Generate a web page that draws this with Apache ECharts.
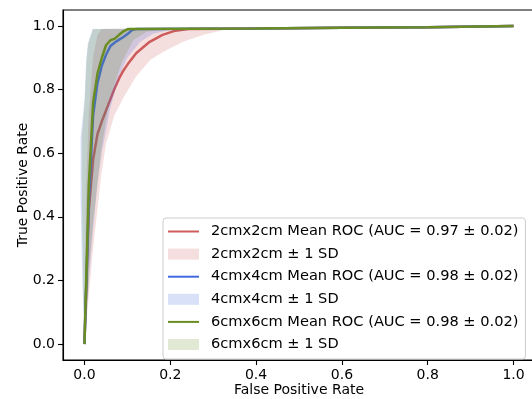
<!DOCTYPE html>
<html><head><meta charset="utf-8">
<script src="https://cdn.jsdelivr.net/npm/echarts@6/dist/echarts.min.js"></script>
<style>html,body{margin:0;padding:0;background:#fff}#c{width:532px;height:399px}</style>
</head><body><div id="c"></div>
<script>
const xTicks = [0, 0.2, 0.4, 0.6, 0.8, 1.0];
const yTicks = [0, 0.2, 0.4, 0.6, 0.8, 1.0];

const lineNames = ['2cmx2cm Mean ROC (AUC = 0.97 \u00b1 0.02)', '4cmx4cm Mean ROC (AUC = 0.98 \u00b1 0.02)', '6cmx6cm Mean ROC (AUC = 0.98 \u00b1 0.02)'];
const bandNames = ['2cmx2cm \u00b1 1 SD', '4cmx4cm \u00b1 1 SD', '6cmx6cm \u00b1 1 SD'];
const lineColors = ['#cd5c5c', '#4169e1', '#6b8e23'];
const bandColors = ['rgba(205,92,92,0.2)', 'rgba(65,105,225,0.2)', 'rgba(107,142,35,0.2)'];

// mean ROC curves [fpr, tpr]
const mean2 = [[0,0],[0.0101,0.42],[0.0202,0.58],[0.0303,0.66],[0.0404,0.70],[0.0505,0.735],[0.0606,0.77],[0.0707,0.805],[0.0808,0.835],[0.0909,0.86],[0.101,0.88],[0.121,0.915],[0.152,0.95],[0.182,0.972],[0.212,0.985],[0.242,0.99],[0.4,0.992],[0.6,0.994],[0.8,0.996],[1.0,1.0]];
const mean4 = [[0,0],[0.0101,0.45],[0.0202,0.72],[0.0303,0.82],[0.0404,0.875],[0.0505,0.91],[0.0606,0.937],[0.0707,0.948],[0.0808,0.957],[0.0909,0.965],[0.101,0.975],[0.111,0.987],[0.121,0.99],[0.4,0.992],[0.6,0.994],[0.8,0.996],[1.0,1.0]];
const mean6 = [[0,0],[0.0101,0.5],[0.0202,0.76],[0.0303,0.85],[0.0404,0.9],[0.0505,0.94],[0.0606,0.955],[0.0707,0.96],[0.0808,0.972],[0.0909,0.983],[0.101,0.99],[0.4,0.992],[0.6,0.994],[0.8,0.996],[1.0,1.0]];

// +/- 1 SD band edges [fpr, tpr]
const upper2 = [[0,0],[0.004,0.5],[0.01,0.72],[0.02,0.9],[0.03,0.97],[0.04,0.99],[1.0,1.0]];
const lower2 = [[0,0],[0.01,0.15],[0.02,0.3],[0.03,0.42],[0.039,0.53],[0.05,0.63],[0.07,0.72],[0.093,0.78],[0.12,0.84],[0.153,0.893],[0.184,0.919],[0.231,0.951],[0.278,0.972],[0.324,0.987],[0.35,0.99],[1.0,1.0]];
const upper4 = [[0,0],[-0.005,0.2],[-0.009,0.45],[-0.009,0.65],[0,0.767],[0.004,0.893],[0.008,0.945],[0.019,0.99],[1.0,1.0]];
const lower4 = [[0,0],[0.01,0.2],[0.02,0.36],[0.03,0.5],[0.04,0.6],[0.06,0.74],[0.08,0.84],[0.1,0.9],[0.13,0.95],[0.16,0.975],[0.2,0.988],[0.25,0.99],[1.0,1.0]];
const upper6 = [[0,0],[-0.003,0.2],[-0.006,0.45],[-0.006,0.65],[0.001,0.767],[0.005,0.893],[0.009,0.945],[0.02,0.99],[1.0,1.0]];
const lower6 = [[0,0],[0.008,0.14],[0.012,0.26],[0.02,0.38],[0.03,0.5],[0.039,0.61],[0.058,0.767],[0.086,0.883],[0.114,0.956],[0.145,0.982],[0.2,0.99],[1.0,1.0]];

const means = [mean2, mean4, mean6];
const uppers = [upper2, upper4, upper6];
const lowers = [lower2, lower4, lower6];

// legend handle shapes (drawn part on the left, spacer point on the right)
const ICON_LINE = 'path://M38,12M0,0M0,5h31v2h-31z';
const ICON_PATCH = 'path://M38,12M0,0M0,0.5h31v11h-31z';

const FONT = 'DejaVu Sans';
const series = [];
const legendData = [];
for (let i = 0; i < 3; i++) {
  series.push({
    name: lineNames[i], type: 'line', data: means[i], symbol: 'none',
    lineStyle: {color: lineColors[i], width: 2.5}, itemStyle: {color: lineColors[i]},
    z: 2 + i * 2, animation: false, silent: true
  });
  const up = uppers[i], lo = lowers[i], fillC = bandColors[i];
  series.push({
    name: bandNames[i], type: 'custom', data: [[0, 0]],
    itemStyle: {color: fillC}, z: 3 + i * 2, animation: false, silent: true, clip: true,
    renderItem: function (params, api) {
      const pts = up.map(p => api.coord(p)).concat(lo.slice().reverse().map(p => api.coord(p)));
      return {type: 'polygon', shape: {points: pts}, style: {fill: fillC}};
    }
  });
  legendData.push({name: lineNames[i], icon: ICON_LINE, itemStyle: {color: lineColors[i]}});
  legendData.push({name: bandNames[i], icon: ICON_PATCH, itemStyle: {color: fillC}});
}

const chart = echarts.init(document.getElementById('c'), null, {renderer: 'canvas'});
chart.setOption({
  animation: false,
  backgroundColor: '#fff',
  textStyle: {fontFamily: FONT},
  grid: {left: 63, top: 10, width: 472, height: 350, show: true, borderColor: '#000', borderWidth: 1.1,
    backgroundColor: 'transparent', containLabel: false, outerBoundsMode: 'none'},
  xAxis: {
    type: 'value', min: -0.05, max: 1.05,
    name: 'False Positive Rate', nameLocation: 'middle', nameGap: 23, nameMoveOverlap: false,
    nameTextStyle: {fontFamily: FONT, fontSize: 14, color: '#000'},
    axisLine: {show: true, onZero: false, lineStyle: {color: '#000', width: 1.1}},
    axisTick: {show: true, length: 5, lineStyle: {color: '#000', width: 1.1}, customValues: xTicks},
    axisLabel: {fontFamily: FONT, fontSize: 14, color: '#000', margin: 8, customValues: xTicks,
      formatter: v => v.toFixed(1)},
    splitLine: {show: false}
  },
  yAxis: {
    type: 'value', min: -0.05, max: 1.05,
    name: 'True Positive Rate', nameLocation: 'middle', nameGap: 33, nameMoveOverlap: false,
    nameTextStyle: {fontFamily: FONT, fontSize: 14, color: '#000'},
    axisLine: {show: true, onZero: false, lineStyle: {color: '#000', width: 1.1}},
    axisTick: {show: true, length: 5, lineStyle: {color: '#000', width: 1.1}, customValues: yTicks},
    axisLabel: {fontFamily: FONT, fontSize: 14, color: '#000', margin: 8, customValues: yTicks,
      formatter: v => v.toFixed(1)},
    splitLine: {show: false}
  },
  legend: {
    show: true, orient: 'vertical', left: 163, top: 218, z: 20,
    data: legendData,
    itemWidth: 38, itemHeight: 12, itemGap: 7.6,
    padding: [6, 7, 7, 5],
    backgroundColor: 'rgba(255,255,255,0.8)', borderColor: '#cccccc', borderWidth: 1, borderRadius: 3,
    textStyle: {fontFamily: FONT, fontSize: 14.6, color: '#000', lineHeight: 14},
    selectedMode: false
  },
  series: series
});
</script></body></html>
